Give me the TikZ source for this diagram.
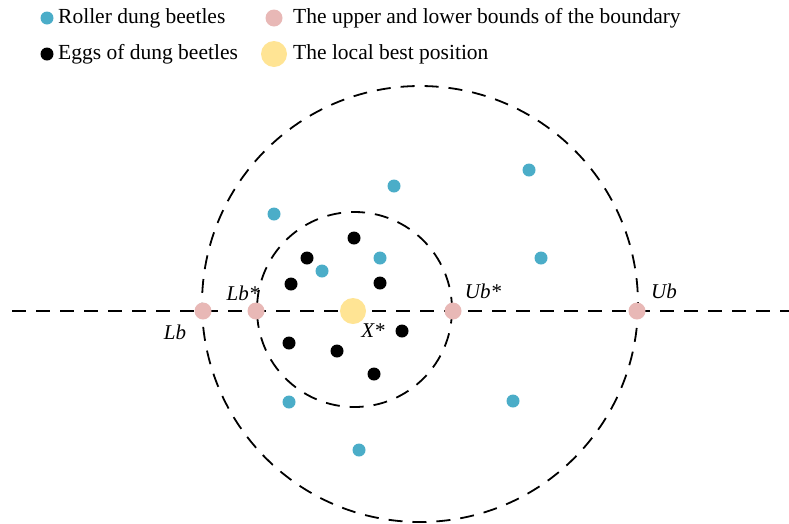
\documentclass[tikz,border=0pt]{standalone}
\usepackage{fontspec}
\setmainfont{Liberation Serif}
\usepackage{xcolor}
\usepackage{tikz}
\usetikzlibrary{positioning}
\definecolor{rollerblue}{HTML}{4BADC8}
\definecolor{boundpink}{HTML}{E8B8B6}
\definecolor{bestyellow}{HTML}{FFE494}

\begin{document}
\begin{tikzpicture}[
    x=1pt,y=-1pt,
    font=\fontsize{21.5}{24}\selectfont,
    roller/.style={circle,fill=rollerblue,inner sep=0pt,minimum size=13pt},
    egg/.style={circle,fill=black,inner sep=0pt,minimum size=13pt},
    bound/.style={circle,fill=boundpink,inner sep=0pt,minimum size=17pt},
    best/.style={circle,fill=bestyellow,inner sep=0pt,minimum size=26pt},
    lab/.style={font=\fontsize{21}{24}\selectfont\itshape,inner sep=1pt},
    legtext/.style={anchor=west,inner sep=0pt},
    dashline/.style={dash pattern=on 14pt off 10pt,line width=1.8pt}
  ]
    \useasboundingbox (0,0) rectangle (789,523);
    % legend
    \node[roller] (kroll) at (47,18) {};
    \node[legtext] (troll) at (58,18) {Roller dung beetles};
    \node[bound] (kbound) at (274,18) {};
    \node[legtext] (tbound) at (293,18) {The upper and lower bounds of the boundary};
    \node[egg] (kegg) at (47,54) {};
    \node[legtext] (tegg) at (58,54) {Eggs of dung beetles};
    \node[best] (kbest) at (274,54) {};
    \node[legtext] (tbest) at (293,54) {The local best position};
    % search regions
    \coordinate (west) at (12,311);
    \coordinate (east) at (789,311);
    \draw[dashline] (west) -- (east);
    \draw[dashline] (420,304) circle[radius=218];
    \draw[dashline] (354.5,309.5) circle[radius=97.5];
    % dung beetles
    \foreach \p/\q [count=\i] in {394/186,529/170,274/214,541/258,380/258,322/271,289/402,513/401,359/450}
      \node[roller] (r\i) at (\p,\q) {};
    \foreach \p/\q [count=\i] in {354/238,307/258,291/284,380/283,402/331,289/343,337/351,374/374}
      \node[egg] (e\i) at (\p,\q) {};
    % bounds and best position
    \node[bound] (lb) at (203,311) {};
    \node[bound] (lbs) at (256,311) {};
    \node[bound] (ubs) at (453,311) {};
    \node[bound] (ub) at (637,311) {};
    \node[best] (xs) at (353,311) {};
    \node[lab] at (175,332) {Lb};
    \node[lab] at (243,293) {Lb*};
    \node[lab] at (483,291) {Ub*};
    \node[lab] at (664,291) {Ub};
    \node[lab] at (373,331) {X*};
  \end{tikzpicture}
\end{document}
